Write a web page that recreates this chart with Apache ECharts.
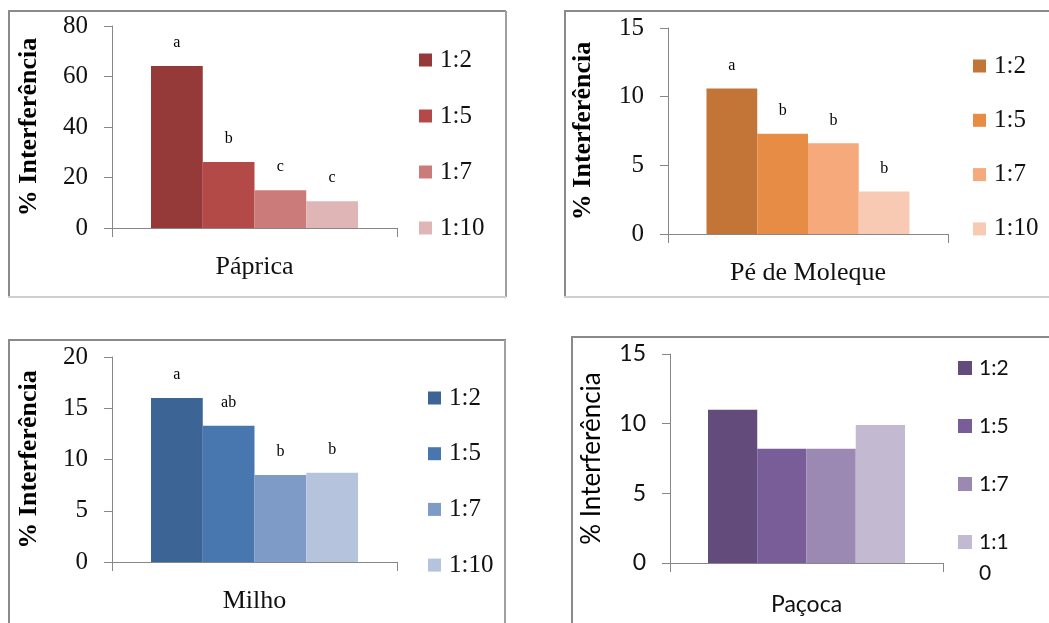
<!DOCTYPE html>
<html><head><meta charset="utf-8">
<script src="https://cdn.jsdelivr.net/npm/echarts@6/dist/echarts.min.js"></script>
<style>html,body{margin:0;padding:0;background:#fff}#c{width:1049px;height:623px}</style>
</head><body><div id="c"></div>
<script>
// ---- data ----
const ratios = ['1:2', '1:5', '1:7', '1:10'];
const yTitle = '% Interferência';

const papricaName = 'Páprica';
const papricaValues = [64.2, 26.1, 15.0, 10.6];
const papricaLetters = ['a', 'b', 'c', 'c'];
const papricaTicks = [0, 20, 40, 60, 80];

const peName = 'Pé de Moleque';
const peValues = [10.6, 7.3, 6.6, 3.1];
const peLetters = ['a', 'b', 'b', 'b'];
const peTicks = [0, 5, 10, 15];

const milhoName = 'Milho';
const milhoValues = [16.0, 13.3, 8.5, 8.7];
const milhoLetters = ['a', 'ab', 'b', 'b'];
const milhoTicks = [0, 5, 10, 15, 20];

const pacocaName = 'Paçoca';
const pacocaValues = [11.0, 8.2, 8.2, 9.9];
const pacocaLetters = ['', '', '', ''];
const pacocaTicks = [0, 5, 10, 15];

// ---- layout / style ----
const SERIF = '"Liberation Serif", "Times New Roman", serif';
const SANS = 'Lato, sans-serif';
const AX = '#878787';

const panels = [
  { name: papricaName, values: papricaValues, letters: papricaLetters, ticks: papricaTicks,
    colors: ['#953a38', '#b44a47', '#cb7c7a', '#dfb6b5'],
    grid: { left: 112, top: 26, width: 285, height: 202 }, barWidth: 51.75,
    font: SERIF, bold: 'bold', tickSize: 25, titleSize: 26, catSize: 26, nameGap: 70, catMargin: 26,
    legend: { left: 419, top: 47.5, gap: 31, size: 25, icon: 13, pad: 3 } },
  { name: peName, values: peValues, letters: peLetters, ticks: peTicks,
    colors: ['#c27536', '#e68c44', '#f6aa7c', '#f8cab3'],
    grid: { left: 668, top: 28, width: 280, height: 206 }, barWidth: 50.75,
    font: SERIF, bold: 'bold', tickSize: 25, titleSize: 26, catSize: 26, nameGap: 72, catMargin: 26,
    legend: { left: 973, top: 53.5, gap: 29.3, size: 25, icon: 13, pad: 3 } },
  { name: milhoName, values: milhoValues, letters: milhoLetters, ticks: milhoTicks,
    colors: ['#3c6494', '#4876ae', '#7e9ac6', '#b5c3dd'],
    grid: { left: 112, top: 357, width: 285, height: 205 }, barWidth: 51.75,
    font: SERIF, bold: 'bold', tickSize: 25, titleSize: 26, catSize: 26, nameGap: 70, catMargin: 26,
    legend: { left: 428, top: 385.5, gap: 30.7, size: 25, icon: 13, pad: 3 } },
  { name: pacocaName, values: pacocaValues, letters: pacocaLetters, ticks: pacocaTicks,
    colors: ['#634c7c', '#785d98', '#9c89b3', '#c3b9d1'],
    grid: { left: 670, top: 354, width: 273, height: 209 }, barWidth: 49.25,
    font: SANS, bold: 'normal', tickSize: 23, titleSize: 26, catSize: 23, nameGap: 65, catMargin: 30,
    legend: { left: 958, top: 357.5, gap: 37, size: 21, icon: 14, pad: 2, splitLast: true } }
];

const grids = [], xAxes = [], yAxes = [], series = [], legends = [];
panels.forEach((p, i) => {
  grids.push(Object.assign({}, p.grid));
  xAxes.push({
    type: 'category', gridIndex: i, data: [p.name], boundaryGap: true,
    axisLine: { show: true, lineStyle: { color: AX, width: 1 } },
    axisTick: { show: true, length: 9, lineStyle: { color: AX } },
    axisLabel: { fontFamily: p.font, fontSize: p.catSize, color: '#111', margin: p.catMargin }
  });
  yAxes.push({
    type: 'value', gridIndex: i,
    min: p.ticks[0], max: p.ticks[p.ticks.length - 1], interval: p.ticks[1] - p.ticks[0],
    axisLine: { show: true, lineStyle: { color: AX, width: 1 } },
    axisTick: { show: true, length: 8, lineStyle: { color: AX } },
    splitLine: { show: false },
    axisLabel: { fontFamily: p.font, fontSize: p.tickSize, color: '#111', margin: 24 },
    name: yTitle, nameLocation: 'middle', nameRotate: 90, nameGap: p.nameGap,
    nameTextStyle: { fontFamily: p.font, fontSize: p.titleSize, fontWeight: p.bold, color: '#000' }
  });
  const names = ratios.map(r => r + ' '.repeat(i));
  names.forEach((nm, j) => {
    series.push({
      type: 'bar', name: nm, xAxisIndex: i, yAxisIndex: i,
      data: [p.values[j]], barWidth: p.barWidth, barGap: '0%',
      itemStyle: { color: p.colors[j] },
      label: { show: p.letters[j] !== '', position: 'top', distance: 15,
        formatter: p.letters[j], fontFamily: SERIF, fontSize: 16, color: '#000' },
      emphasis: { disabled: true }, animation: false
    });
  });
  const L = p.legend;
  const baseLegend = {
    orient: 'vertical', padding: 0, selectedMode: false,
    itemWidth: L.icon, itemHeight: L.icon, icon: 'rect', itemGap: L.gap,
    textStyle: { fontFamily: p.font, fontSize: L.size, lineHeight: L.size, color: '#111', padding: [0, 0, 0, L.pad] },
    formatter: n => n.trim()
  };
  if (L.splitLast) {
    legends.push(Object.assign({}, baseLegend, { left: L.left, top: L.top, data: names.slice(0, 3) }));
    const lh = 31;
    legends.push(Object.assign({}, baseLegend, {
      left: L.left, top: 542 - lh * 1.5, data: [names[3]],
      textStyle: { fontFamily: p.font, fontSize: L.size, lineHeight: lh, color: '#111', padding: [0, 0, 0, L.pad] },
      formatter: n => { const t = n.trim(); return '\n' + t.slice(0, 3) + '\n' + t.slice(3); }
    }));
  } else {
    legends.push(Object.assign({}, baseLegend, { left: L.left, top: L.top, data: names }));
  }
});

const DARK = '#8a8a8a', LIGHT = '#cfcfcf';
function ln(x1, y1, x2, y2, c) {
  return { type: 'line', silent: true, shape: { x1, y1, x2, y2 }, style: { stroke: c, lineWidth: 2 } };
}
const frames = [
  ln(8, 11, 506, 11, DARK), ln(9, 11, 9, 297, DARK), ln(506, 11, 506, 297, '#a0a0a0'), ln(8, 297, 506, 297, LIGHT),
  ln(564, 11, 1049, 11, DARK), ln(565, 11, 565, 297, DARK), ln(564, 297, 1049, 297, LIGHT),
  ln(8, 340, 506, 340, DARK), ln(9, 340, 9, 623, DARK), ln(505, 340, 505, 623, '#a0a0a0'),
  ln(571, 337, 1049, 337, DARK), ln(572, 337, 572, 623, DARK)
];

const chart = echarts.init(document.getElementById('c'), null, { renderer: 'canvas' });
chart.setOption({
  backgroundColor: '#fff',
  animation: false,
  grid: grids, xAxis: xAxes, yAxis: yAxes, series: series, legend: legends,
  graphic: frames
});
</script></body></html>
